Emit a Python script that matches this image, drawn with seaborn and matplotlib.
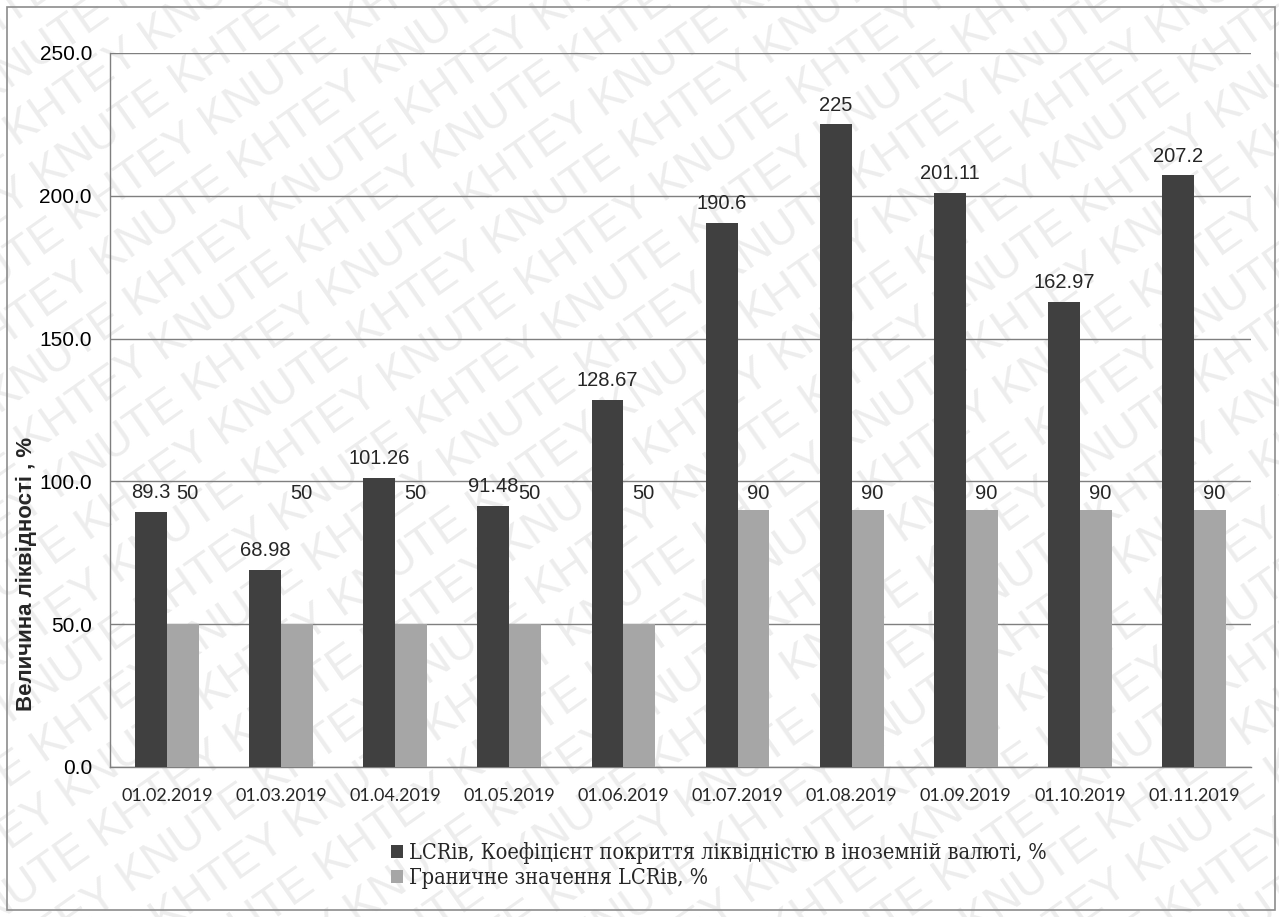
import numpy as np
import pandas as pd
import matplotlib.pyplot as plt
import seaborn as sns
from matplotlib.patches import Rectangle
from matplotlib import font_manager

# Values
dates = ['01.02.2019', '01.03.2019', '01.04.2019', '01.05.2019', '01.06.2019',
         '01.07.2019', '01.08.2019', '01.09.2019', '01.10.2019', '01.11.2019']
lcr_fx = [89.3, 68.98, 101.26, 91.48, 128.67, 190.6, 225, 201.11, 162.97, 207.2]
lcr_limit = [50, 50, 50, 50, 50, 90, 90, 90, 90, 90]

name_lcr = 'LCRів, Коефіцієнт покриття ліквідністю в іноземній валюті, %'
name_limit = 'Граничне значення LCRів, %'

df = pd.DataFrame({
    'date': dates * 2,
    'value': lcr_fx + lcr_limit,
    'series': [name_lcr] * len(dates) + [name_limit] * len(dates),
})

sns.set_style('white')
plt.rcParams['font.family'] = ['Liberation Sans', 'DejaVu Sans']

W, H = 1279, 917
fig = plt.figure(figsize=(W / 100, H / 100), dpi=100)
ax = fig.add_axes([110 / W, 1 - 767 / H, (1251 - 110) / W, (767 - 53) / H])
ax.set_facecolor('none')

# Faint diagonal watermark behind the chart
angle = 35
th = np.deg2rad(angle)
px, py = -np.sin(th), np.cos(th)
words = ['KNUTE ', 'KHTEY ']
for k in range(-15, 16):
    cx = W / 2 + k * 52 * px
    cy = H / 2 + k * 52 * py
    s = ''.join(words[(i + k) % 2] for i in range(10))
    fig.text(cx / W, cy / H, s, rotation=angle, rotation_mode='anchor',
             ha='center', va='center', fontsize=33, color='#ededed',
             family='Liberation Sans', zorder=-5)

# Outer frame
fig.patches.append(Rectangle((7 / W, 7 / H), (1275 - 7) / W, (910 - 7) / H,
                             transform=fig.transFigure, fill=False,
                             edgecolor='#8c8c8c', linewidth=1.2, zorder=-4))

sns.barplot(data=df, x='date', y='value', hue='series',
            palette=['#404040', '#a6a6a6'], width=0.56, gap=0,
            saturation=1, edgecolor='none', ax=ax, zorder=3)

ax.set_ylim(0, 250)
ax.set_xlim(-0.5, len(dates) - 0.5)
ax.set_yticks(np.arange(0, 251, 50))
ax.set_yticklabels([f'{v:.1f}' for v in np.arange(0, 251, 50)], fontsize=15)
ax.yaxis.grid(True, color='#7f7f7f', linewidth=1)
ax.set_axisbelow(True)
ax.tick_params(axis='y', length=0, pad=13, colors='black')

# category boundary ticks on the x axis
ax.set_xticks(np.arange(len(dates)))
ax.set_xticklabels(dates, fontsize=13, family=['Lato', 'DejaVu Sans'])
ax.set_xticks(np.arange(-0.5, len(dates), 1), minor=True)
ax.tick_params(axis='x', which='major', length=0, pad=15)
ax.tick_params(axis='x', which='minor', length=7, width=1, color='#7f7f7f', direction='out')

for side in ['top', 'right']:
    ax.spines[side].set_visible(False)
for side in ['left', 'bottom']:
    ax.spines[side].set_color('#7f7f7f')
    ax.spines[side].set_linewidth(1)

ax.set_xlabel('')
ax.set_ylabel('Величина ліквідності , %', fontsize=16, fontweight='bold')
ax.yaxis.set_label_coords(-0.064, 0.27)

# value labels
dark, light = ax.containers[0], ax.containers[1]
ax.bar_label(dark, labels=[f'{v:g}' for v in lcr_fx], padding=7, fontsize=14.5)
top_limit = max(lcr_limit)
for bar, v in zip(light, lcr_limit):
    ax.annotate(f'{v:g}', (bar.get_x() + bar.get_width() / 2, top_limit),
                xytext=(3, 5), textcoords='offset points',
                ha='center', va='bottom', fontsize=14.5)

leg_font = font_manager.FontProperties(family='DejaVu Serif', stretch='condensed', size=15.5)
handles, labels = ax.get_legend_handles_labels()
ax.legend(handles, labels, loc='upper left', bbox_to_anchor=(262 / (1251 - 110), -0.078),
          frameon=False, handlelength=0.55, handleheight=0.55, handletextpad=0.25,
          labelspacing=0.15, prop=leg_font)

fig.savefig('out.png', dpi=100)
